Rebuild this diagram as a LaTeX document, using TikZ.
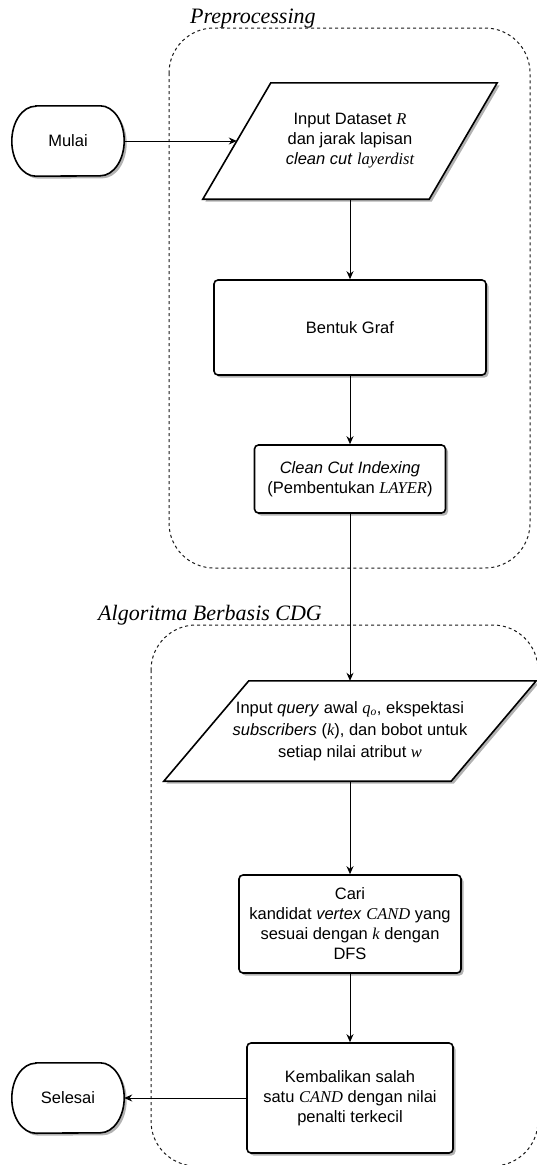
\documentclass[tikz,border=0pt]{standalone}
\usepackage{fontspec}
\setmainfont{Liberation Sans}
\newfontfamily\seriff{Liberation Serif}
\usetikzlibrary{arrows.meta,shadows,calc}
\newcommand{\mi}[1]{{\seriff\itshape #1}}
\begin{document}
\begin{tikzpicture}[x=1pt,y=-1pt,
  every node/.style={font=\fontsize{16.5}{20}\selectfont, align=center, inner sep=0pt},
  shad/.style={drop shadow={shadow xshift=2.5pt,shadow yshift=-2.5pt,opacity=0.3,fill=black}},
  box/.style={draw=black, line width=1.6pt, rounded corners=4pt, fill=white, shad},
  outline/.style={draw=black, line width=1.6pt, fill=white, shad, line join=miter},
  ghost/.style={rectangle},
  conn/.style={line width=1pt, -{Stealth[length=8pt,width=7pt]}},
  dbox/.style={draw=black!90, line width=1pt, dash pattern=on 3pt off 3pt, rounded corners=45pt},
  ttl/.style={font=\fontsize{22}{26}\selectfont\seriff\itshape, anchor=base west}
]
\useasboundingbox (0,0) rectangle (537,1165);
\fill[white] (0,0) rectangle (537,1165);

% group frames
\draw[dbox] (169,28) rectangle (530,568);
\draw[dbox] (151,625) rectangle (538,1166);
\node[ttl] (t1) at (190,23) {Preprocessing};
\node[ttl] (t2) at (98,620) {Algoritma Berbasis CDG};

% terminators
\node[ghost, minimum width=112pt, minimum height=70pt] (mulai) at (68,141) {};
\draw[outline] ([xshift=24pt]mulai.north west) -- ([xshift=-24pt]mulai.north east)
  arc[start angle=90,end angle=-90,x radius=24pt,y radius=35pt]
  -- ([xshift=24pt]mulai.south west)
  arc[start angle=270,end angle=90,x radius=24pt,y radius=35pt] -- cycle;
\node at (mulai) {Mulai};

\node[ghost, minimum width=112pt, minimum height=70pt] (selesai) at (68,1098) {};
\draw[outline] ([xshift=24pt]selesai.north west) -- ([xshift=-24pt]selesai.north east)
  arc[start angle=90,end angle=-90,x radius=24pt,y radius=35pt]
  -- ([xshift=24pt]selesai.south west)
  arc[start angle=270,end angle=90,x radius=24pt,y radius=35pt] -- cycle;
\node at (selesai) {Selesai};

% input 1
\node[ghost, minimum width=226pt, minimum height=116pt] (p1) at (350,141) {};
\draw[outline] ([xshift=34pt]p1.north west) -- ([xshift=34pt]p1.north east)
  -- ([xshift=-34pt]p1.south east) -- ([xshift=-34pt]p1.south west) -- cycle;
\node at (p1) {Input Dataset \mi{R}\\dan jarak lapisan\\\textit{clean cut} \mi{layerdist}};

% process boxes
\node[box, minimum width=272pt, minimum height=95pt] (graf) at (350,327.5) {Bentuk Graf};
\node[box, minimum width=191pt, minimum height=68pt] (clean) at (350,479)
  {\textit{Clean Cut Indexing}\\(Pembentukan \mi{LAYER})};

% input 2
\node[ghost, minimum width=287pt, minimum height=100pt] (p2) at (350,731) {};
\draw[outline] ([xshift=42.5pt]p2.north west) -- ([xshift=42.5pt]p2.north east)
  -- ([xshift=-42.5pt]p2.south east) -- ([xshift=-42.5pt]p2.south west) -- cycle;
\node[font=\fontsize{16.5}{22}\selectfont] at (p2) {Input \textit{query} awal \mi{q\textsubscript{o}}, ekspektasi\\\textit{subscribers} (\mi{k}), dan bobot untuk\\setiap nilai atribut \mi{w}};

\node[box, minimum width=222pt, minimum height=98pt] (cari) at (350,924)
  {Cari\\kandidat \textit{vertex} \mi{CAND} yang\\sesuai dengan \mi{k} dengan\\DFS};
\node[box, minimum width=206pt, minimum height=110pt] (kemb) at (350,1098)
  {Kembalikan salah\\satu \mi{CAND} dengan nilai\\penalti terkecil};

% connectors
\draw[conn] (mulai.east) -- (p1.west);
\draw[conn] (p1.south) -- (graf.north);
\draw[conn] (graf.south) -- (clean.north);
\draw[conn] (clean.south) -- (p2.north);
\draw[conn] (p2.south) -- (cari.north);
\draw[conn] (cari.south) -- (kemb.north);
\draw[conn] (kemb.west) -- (selesai.east);
\end{tikzpicture}
\end{document}
